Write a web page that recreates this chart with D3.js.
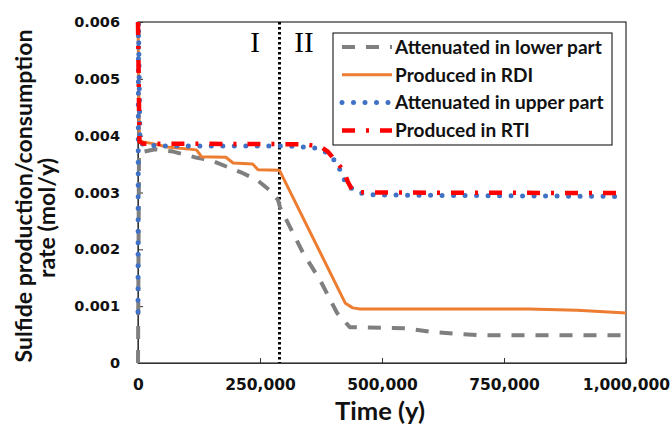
<!DOCTYPE html>
<html>
<head>
<meta charset="utf-8">
<script src="https://cdn.jsdelivr.net/npm/d3@7"></script>
<style>
  body { margin: 0; background: #fff; }
  svg { display: block; }
</style>
</head>
<body>
<div id="chart"></div>
<script>
// Time (y) and rate (mol/y) pairs
const lowerAttenuated = [
  [0, 0], [2000, 0.0037], [35000, 0.00376], [72000, 0.00372], [121000, 0.00361],
  [148000, 0.00357], [189000, 0.00343], [215000, 0.00334], [244000, 0.00322],
  [270000, 0.00304], [287000, 0.00287], [291000, 0.00274], [338000, 0.00194],
  [373000, 0.00146], [408000, 0.00088], [434000, 0.00063], [500000, 0.00062],
  [551000, 0.00061], [598000, 0.00055], [645000, 0.00052], [697000, 0.00049],
  [1000000, 0.00049]
];
const producedRDI = [
  [0, 0.006], [3000, 0.0039], [30000, 0.00386], [60000, 0.0038], [120000, 0.00375],
  [130000, 0.00363], [180000, 0.00362], [195000, 0.00352], [235000, 0.0035],
  [246000, 0.0034], [290000, 0.00339], [425000, 0.00105], [440000, 0.00097],
  [455000, 0.00095], [800000, 0.00095], [900000, 0.00093], [1000000, 0.00088]
];
const upperAttenuated = [
  [0, 0.0009], [1000, 0.006], [4000, 0.00386], [40000, 0.00382], [300000, 0.00382],
  [340000, 0.0038], [367000, 0.00378], [387000, 0.0037], [408000, 0.00352],
  [418000, 0.00331], [428000, 0.00313], [449000, 0.00301], [469000, 0.00296],
  [600000, 0.00295], [1000000, 0.00293]
];
const producedRTI = [
  [0, 0.006], [3000, 0.0039], [10000, 0.00386], [340000, 0.00385], [373000, 0.00381],
  [389000, 0.00372], [420000, 0.0034], [430000, 0.00319], [441000, 0.00301],
  [470000, 0.003], [1000000, 0.00299]
];

const seriesNames = ["Attenuated in lower part", "Produced in RDI", "Attenuated in upper part", "Produced in RTI"];
const xTicks = [0, 250000, 500000, 750000, 1000000];
const yTicks = [0, 0.001, 0.002, 0.003, 0.004, 0.005, 0.006];
const boundaryTime = 290000;
const zoneLabels = [["I", 255], ["II", 304]];

const width = 672, height = 429;
const svg = d3.select("#chart").append("svg")
  .attr("width", width)
  .attr("height", height);

const x = d3.scaleLinear().domain([0, 1000000]).range([138, 626]);
const y = d3.scaleLinear().domain([0, 0.006]).range([363, 22]);

// pick a font size so a text gets the given width
function fitSize(sample, family, target) {
  const t = svg.append("text")
    .style("font-family", family).style("font-weight", "bold").style("font-size", "20px")
    .text(sample);
  const w = t.node().getComputedTextLength();
  t.remove();
  return 20 * target / w;
}
const labelFont = "Lato";

// styles for each series, in legend order
const styles = [
  { data: lowerAttenuated, color: "#7f7f7f", w: 4, dash: "13,11", cap: "butt" },
  { data: producedRDI, color: "#ed7d31", w: 3, dash: null, cap: "butt" },
  { data: upperAttenuated, color: "#3f72c6", w: 5, dash: "0,11.5", cap: "round" },
  { data: producedRTI, color: "#ff0000", w: 4.5, dash: "13,11,3,11", cap: "butt" }
];

// frame
svg.append("rect")
  .attr("x", x(0)).attr("y", y(0.006))
  .attr("width", x(1000000) - x(0)).attr("height", y(0) - y(0.006))
  .attr("fill", "none").attr("stroke", "#000").attr("stroke-width", 1);

// axes with inward ticks
const xAxis = svg.append("g")
  .attr("transform", `translate(0,${y(0)})`)
  .call(d3.axisBottom(x).tickValues(xTicks).tickSizeInner(-5).tickSizeOuter(0)
    .tickPadding(16).tickFormat(d3.format(",")));
const yAxis = svg.append("g")
  .attr("transform", `translate(${x(0)},0)`)
  .call(d3.axisLeft(y).tickValues(yTicks).tickSizeInner(-5).tickSizeOuter(0)
    .tickPadding(18).tickFormat(d => d === 0 ? "0" : d3.format(".3f")(d)));

[xAxis, yAxis].forEach(g => {
  g.select(".domain").attr("stroke", "#333");
  g.selectAll(".tick line").attr("stroke", "#333");
  g.selectAll("text")
    .attr("fill", "#111")
    .style("font-family", "DejaVu Sans")
    .style("font-weight", "bold");
});
xAxis.selectAll("text").style("font-size", "15.5px");
yAxis.selectAll("text").style("font-size", "14.5px");

// zone boundary
svg.append("line")
  .attr("x1", x(boundaryTime)).attr("x2", x(boundaryTime))
  .attr("y1", y(0.006)).attr("y2", y(0))
  .attr("stroke", "#000").attr("stroke-width", 3)
  .attr("stroke-dasharray", "2.5,2.5");

svg.selectAll(".zone")
  .data(zoneLabels)
  .enter().append("text")
  .attr("x", d => d[1]).attr("y", 52)
  .attr("text-anchor", "middle")
  .style("font-family", "Liberation Serif")
  .style("font-size", "29px")
  .text(d => d[0]);

// series lines
const line = d3.line().x(d => x(d[0])).y(d => y(d[1]));
styles.forEach(s => {
  svg.append("path")
    .datum(s.data)
    .attr("d", line)
    .attr("fill", "none")
    .attr("stroke", s.color)
    .attr("stroke-width", s.w)
    .attr("stroke-linecap", s.cap)
    .attr("stroke-linejoin", "round")
    .attr("stroke-dasharray", s.dash);
});

// legend
const legend = svg.append("g");
legend.append("rect")
  .attr("x", 333).attr("y", 33).attr("width", 279).attr("height", 112)
  .attr("fill", "#fff").attr("stroke", "#000").attr("stroke-width", 1);

const legendSize = fitSize(seriesNames[0], labelFont, 207);
seriesNames.forEach((name, i) => {
  const s = styles[i];
  const cy = 47 + i * 27.8;
  legend.append("line")
    .attr("x1", 342).attr("x2", 392).attr("y1", cy).attr("y2", cy)
    .attr("stroke", s.color)
    .attr("stroke-width", s.w)
    .attr("stroke-linecap", s.cap)
    .attr("stroke-dasharray", s.dash);
  legend.append("text")
    .attr("x", 395).attr("y", cy).attr("dy", "0.36em")
    .style("font-family", labelFont)
    .style("font-weight", "bold")
    .style("font-size", legendSize + "px")
    .attr("fill", "#111")
    .text(name);
});

// axis titles
svg.append("text")
  .attr("x", 380).attr("y", 420)
  .attr("text-anchor", "middle")
  .style("font-family", labelFont)
  .style("font-weight", "bold")
  .style("font-size", fitSize("Time (y)", labelFont, 90) + "px")
  .attr("fill", "#111")
  .text("Time (y)");

const titleSize = fitSize("Sulfide production/consumption", labelFont, 333);
const yTitle = svg.append("text")
  .attr("transform", "translate(32,196) rotate(-90)")
  .attr("text-anchor", "middle")
  .style("font-family", labelFont)
  .style("font-weight", "bold")
  .style("font-size", titleSize + "px")
  .attr("fill", "#111");
yTitle.append("tspan").attr("x", 0).attr("y", 0).text("Sulfide production/consumption");
yTitle.append("tspan").attr("x", -22).attr("y", 23).text("rate (mol/y)");
</script>
</body>
</html>
